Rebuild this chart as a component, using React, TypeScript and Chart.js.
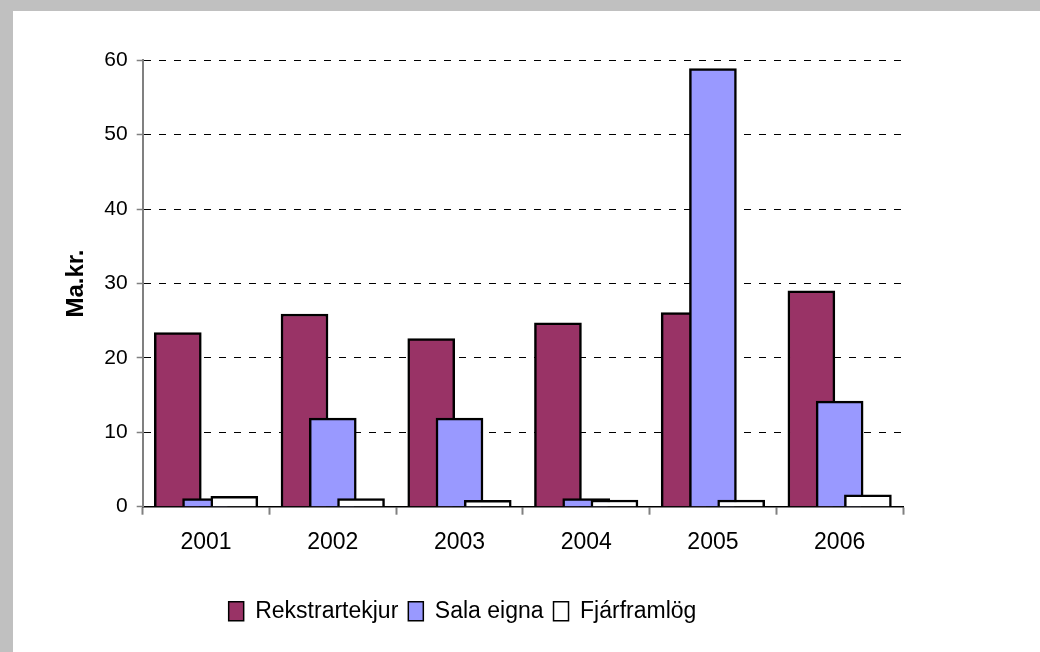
import React, { useEffect, useRef } from "react";
import { Chart, registerables } from "chart.js";

Chart.register(...registerables);

const years = ["2001", "2002", "2003", "2004", "2005", "2006"];
const rekstrartekjur = [23.4, 25.9, 22.6, 24.7, 26.1, 29.0];
const salaEigna = [1.1, 11.9, 11.9, 1.1, 58.9, 14.2];
const fjarframlog = [1.4, 1.1, 0.85, 0.9, 0.9, 1.6];
const seriesNames = ["Rekstrartekjur", "Sala eigna", "Fjárframlög"];
const yTicks = [0, 10, 20, 30, 40, 50, 60];

const FONT = "'Liberation Sans', Arial, Helvetica, sans-serif";

export default function App() {
  const ref = useRef<HTMLCanvasElement | null>(null);

  useEffect(() => {
    if (!ref.current) return;
    const toPts = (arr: number[]) => arr.map((v, i) => ({ x: i, y: v }));
    const shift = 0.223;
    const n = years.length;
    const hiddenAxis = (off: number) => ({
      type: "linear" as const,
      display: false,
      offset: false,
      bounds: "data" as const,
      min: -0.5 - off,
      max: n - 0.5 - off,
      grid: { offset: false },
    });
    const barCommon = {
      borderColor: "#000000",
      borderWidth: 2.5,
      grouped: false,
      barThickness: 47,
      maxBarThickness: 47,
    };
    const chart = new Chart(ref.current, {
      type: "bar",
      data: {
        labels: years,
        datasets: [
          {
            label: seriesNames[0],
            data: toPts(rekstrartekjur),
            xAxisID: "xr",
            backgroundColor: "#993366",
            order: 2,
            ...barCommon,
          },
          {
            label: seriesNames[1],
            data: toPts(salaEigna),
            xAxisID: "xb",
            backgroundColor: "#9999FF",
            order: 1,
            ...barCommon,
          },
          {
            label: seriesNames[2],
            data: toPts(fjarframlog),
            xAxisID: "xw",
            backgroundColor: "#FFFFFF",
            order: 0,
            ...barCommon,
          },
        ],
      },
      options: {
        animation: false,
        responsive: false,
        maintainAspectRatio: false,
        layout: { padding: { left: 9, right: 137, top: 49.3, bottom: 19.2 } },
        plugins: {
          tooltip: { enabled: false },
          legend: {
            position: "bottom",
            labels: {
              color: "#000",
              font: { family: FONT, size: 23 },
              boxWidth: 15,
              boxHeight: 19,
              padding: 10,
              sort: (a: any, b: any) => a.datasetIndex - b.datasetIndex,
              generateLabels: (chart: any) =>
                Chart.defaults.plugins.legend.labels
                  .generateLabels(chart)
                  .map((l: any) => ({ ...l, lineWidth: 1.5 })),
            },
          },
        },
        scales: {
          x: {
            type: "category",
            labels: years,
            offset: true,
            grid: {
              display: true,
              offset: true,
              drawOnChartArea: false,
              drawTicks: true,
              tickLength: 8,
              tickColor: "#808080",
              tickWidth: 2,
            },
            border: { display: true, color: "#000", width: 1.5 },
            ticks: {
              color: "#000",
              font: { family: FONT, size: 23 },
              padding: 14,
              maxRotation: 0,
            },
            afterFit: (s: any) => {
              s.height = 83.1;
            },
          },
          xr: hiddenAxis(-shift),
          xb: hiddenAxis(0),
          xw: hiddenAxis(shift),
          y: {
            type: "linear",
            min: 0,
            max: 60,
            afterBuildTicks: (s: any) => {
              s.ticks = yTicks.map((v) => ({ value: v }));
            },
            grid: {
              color: "#000",
              lineWidth: 1,
              drawTicks: true,
              tickLength: 6,
              tickColor: "#808080",
              tickWidth: 1.5,
            },
            border: { display: true, color: "#808080", width: 2, dash: [7, 8] },
            ticks: {
              color: "#000",
              font: { family: FONT, size: 21 },
              padding: 9,
            },
            title: {
              display: true,
              text: "Ma.kr.",
              color: "#000",
              font: { family: FONT, size: 24, weight: "bold" },
              padding: { top: 40, bottom: 0 },
            },
            afterFit: (s: any) => {
              s.width = 120.7;
            },
          },
        },
      } as any,
    });
    return () => chart.destroy();
  }, []);

  return (
    <div
      style={{
        position: "fixed",
        left: 0,
        top: 0,
        width: 1040,
        height: 652,
        background: "#c0c0c0",
        overflow: "hidden",
      }}
    >
      <div
        style={{
          position: "absolute",
          left: 13,
          top: 11,
          width: 1027,
          height: 641,
          background: "#ffffff",
        }}
      >
        <canvas
          ref={ref}
          width={1027}
          height={641}
          style={{ display: "block", width: 1027, height: 641 }}
        />
      </div>
    </div>
  );
}
